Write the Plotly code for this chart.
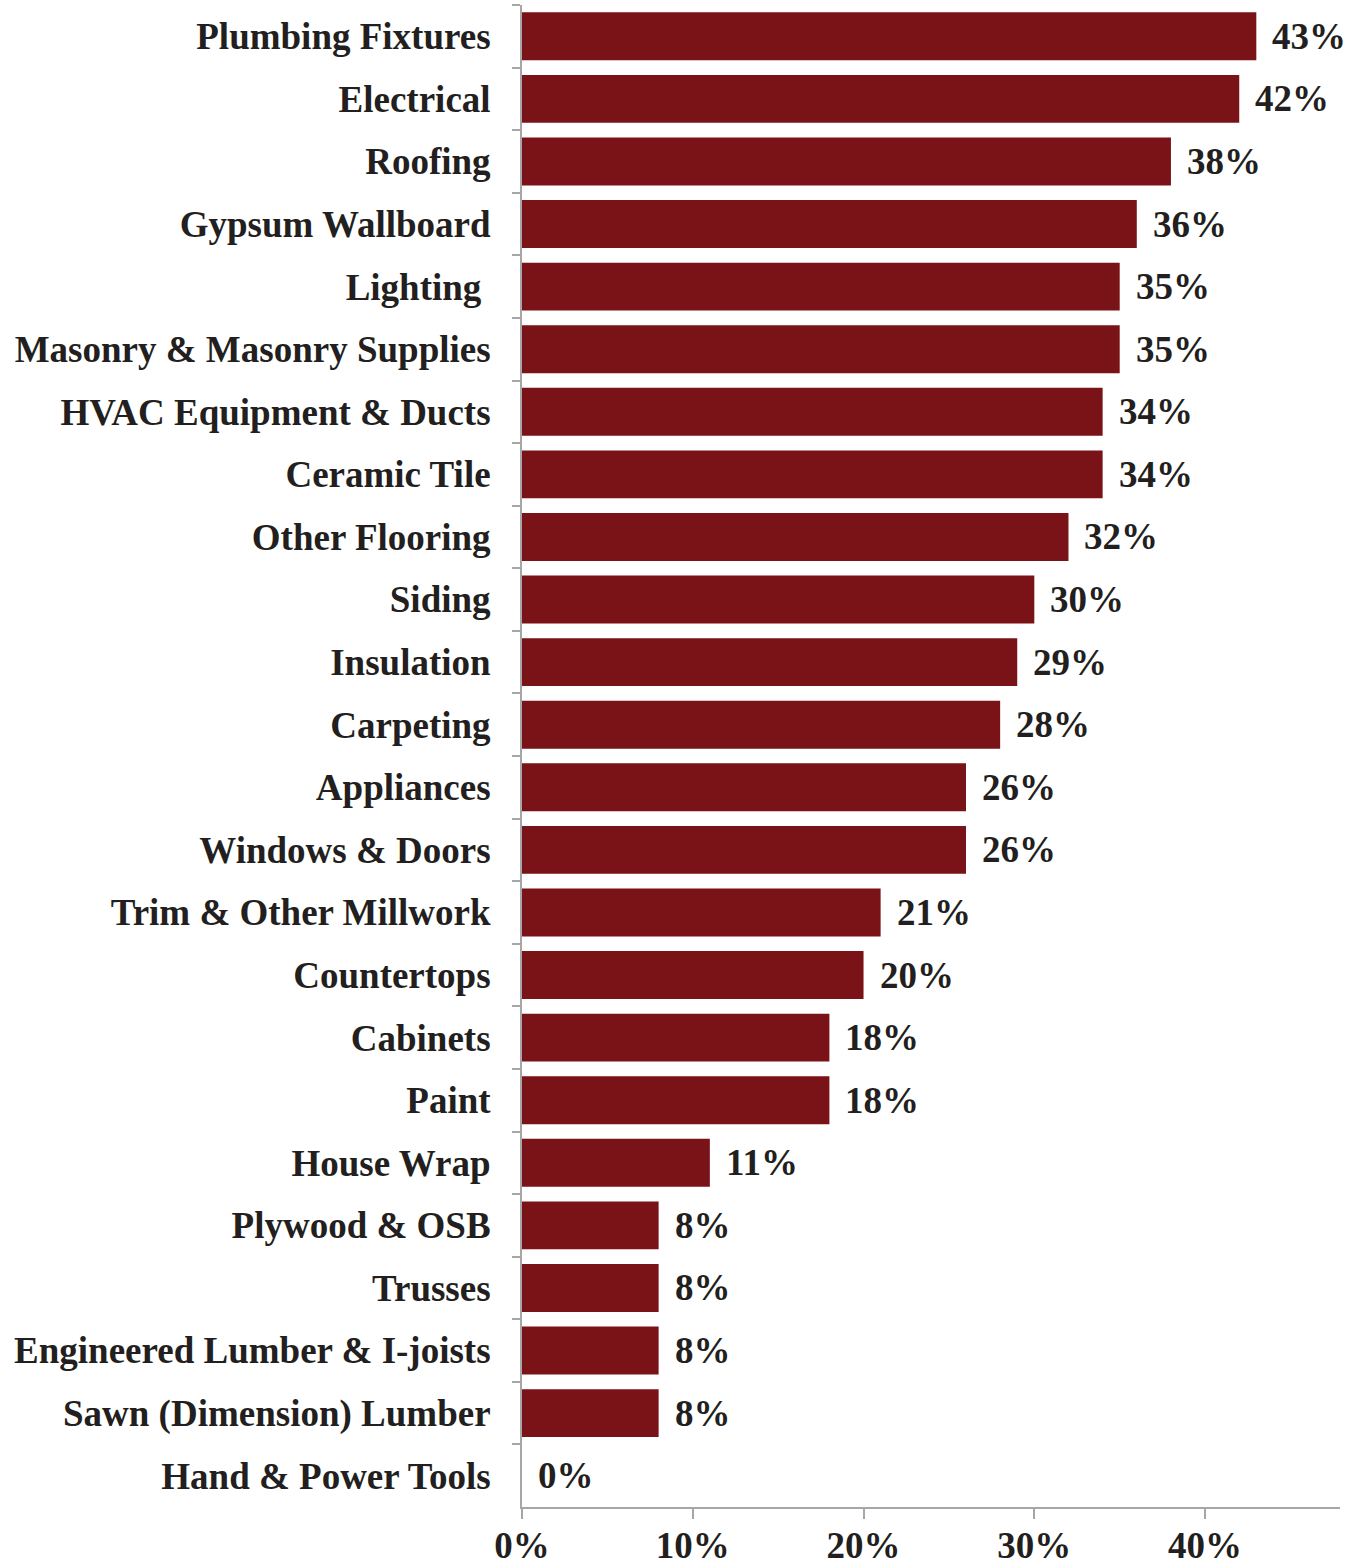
import plotly.graph_objects as go

# Share of builders reporting the material category (top to bottom)
categories = [
    "Plumbing Fixtures", "Electrical", "Roofing", "Gypsum Wallboard", "Lighting\u00a0",
    "Masonry & Masonry Supplies", "HVAC Equipment & Ducts", "Ceramic Tile",
    "Other Flooring", "Siding", "Insulation", "Carpeting", "Appliances",
    "Windows & Doors", "Trim & Other Millwork", "Countertops", "Cabinets",
    "Paint", "House Wrap", "Plywood & OSB", "Trusses",
    "Engineered Lumber & I-joists", "Sawn (Dimension) Lumber", "Hand & Power Tools",
]
values = [0.43, 0.42, 0.38, 0.36, 0.35, 0.35, 0.34, 0.34, 0.32, 0.30, 0.29, 0.28,
          0.26, 0.26, 0.21, 0.20, 0.18, 0.18, 0.11, 0.08, 0.08, 0.08, 0.08, 0.0]
x_ticks = [0, 0.1, 0.2, 0.3, 0.4]

BAR_COLOR = "#7A1317"
TEXT_COLOR = "#231F20"
AXIS_COLOR = "#A6A6A6"
FONT = dict(family="Liberation Serif, Times New Roman, serif", size=37,
            color=TEXT_COLOR, weight="bold")

fig = go.Figure()
fig.add_trace(go.Bar(
    x=values, y=categories, orientation="h",
    marker=dict(color=BAR_COLOR, line=dict(width=0)),
    hoverinfo="x+y",
))

# Value labels just right of each bar end
for cat, v in zip(categories, values):
    fig.add_annotation(
        x=v, y=cat, text=f"{v:.0%}", showarrow=False,
        xanchor="left", yanchor="middle", xshift=14,
        font=FONT,
    )

fig.update_layout(
    width=1359, height=1567,
    margin=dict(l=522, r=19, t=5, b=60),
    plot_bgcolor="white", paper_bgcolor="white",
    bargap=0.235,
    showlegend=False,
    font=FONT,
    xaxis=dict(
        range=[0, 0.479], tickvals=x_ticks, tickformat=".0%",
        showgrid=False, zeroline=False, automargin=False,
        showline=True, linecolor=AXIS_COLOR, linewidth=2,
        ticks="outside", ticklen=10, tickwidth=2, tickcolor=AXIS_COLOR,
        ticklabelstandoff=-5,
        tickfont=FONT,
    ),
    yaxis=dict(
        categoryorder="array", categoryarray=categories, autorange="reversed",
        showgrid=False, zeroline=False, automargin=False,
        showline=True, linecolor=AXIS_COLOR, linewidth=2,
        ticks="outside", ticklen=8, tickwidth=2, tickcolor=AXIS_COLOR,
        tickson="boundaries", ticklabelstandoff=22,
        tickfont=FONT,
    ),
)

fig.write_html("out.html")
